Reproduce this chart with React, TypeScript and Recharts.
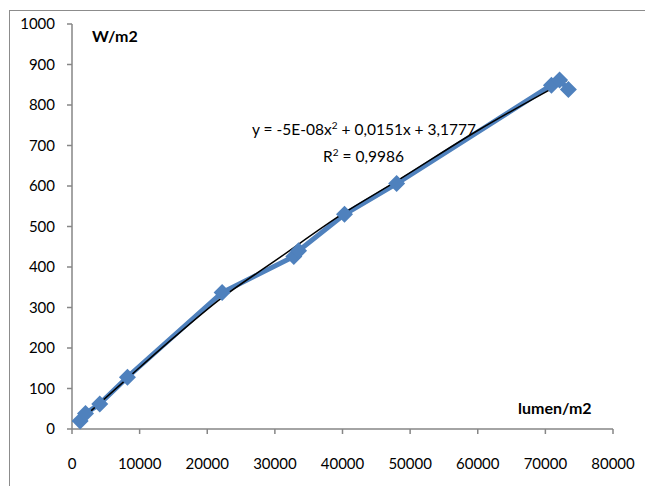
import { ComposedChart, Line, XAxis, YAxis } from "recharts"

// measured points (lumen/m2 -> W/m2)
const lumen = [1200, 2000, 4100, 8200, 22200, 32800, 33500, 40300, 48000, 70900, 72100, 73400]
const watt = [20, 38, 62, 128, 337, 426, 440, 530, 606, 849, 862, 838]

// polynomial trendline
const trendLumen = [1200, 8000, 15000, 22000, 30000, 40000, 48000, 60000, 73200]
const trendWatt = [21, 122, 225, 322, 415, 531, 612, 737, 861]

const xTicks = [0, 10000, 20000, 30000, 40000, 50000, 60000, 70000, 80000]
const yTicks = [0, 100, 200, 300, 400, 500, 600, 700, 800, 900, 1000]

const measured = lumen.map((x, i) => ({ x, y: watt[i] }))
const trend = trendLumen.map((x, i) => ({ x, y: trendWatt[i] }))

const font = "Lato, 'Open Sans', sans-serif"
const axisColor = "#868686"
const blue = "#4F81BD"

const Diamond = (props: any) => {
  const { cx, cy, index } = props
  if (cx == null || cy == null) return null
  const r = 8.5
  return (
    <polygon
      key={`d-${index}`}
      points={`${cx},${cy - r} ${cx + r},${cy} ${cx},${cy + r} ${cx - r},${cy}`}
      fill={blue}
    />
  )
}

export default function App() {
  const tick = { fontFamily: font, fontSize: 15, fill: "#000" }
  return (
    <div style={{ position: "fixed", left: 0, top: 0, width: 645, height: 486, background: "#fff", fontFamily: font }}>
      <div
        style={{
          position: "absolute",
          left: 9,
          top: 10,
          width: 636,
          height: 476,
          borderLeft: "1px solid #8c8c8c",
          borderTop: "1px solid #8c8c8c",
          boxSizing: "border-box",
        }}
      />
      <div style={{ position: "absolute", left: 0, top: 0 }}>
        <ComposedChart width={645} height={486} margin={{ top: 24, right: 32, bottom: 27, left: 12 }}>
          <XAxis
            dataKey="x"
            type="number"
            domain={[0, 80000]}
            ticks={xTicks}
            interval={0}
            tick={tick}
            tickSize={5}
            tickMargin={24}
            height={30}
            stroke={axisColor}
            strokeWidth={1.5}
            allowDataOverflow
          />
          <YAxis
            type="number"
            domain={[0, 1000]}
            ticks={yTicks}
            interval={0}
            tick={tick}
            tickSize={5}
            tickMargin={12}
            width={60}
            stroke={axisColor}
            strokeWidth={1.5}
          />
          <Line
            data={measured}
            dataKey="y"
            type="linear"
            stroke={blue}
            strokeWidth={5}
            dot={Diamond}
            activeDot={false}
            isAnimationActive={false}
          />
          <Line
            data={trend}
            dataKey="y"
            type="monotone"
            stroke="#000"
            strokeWidth={1.5}
            dot={false}
            activeDot={false}
            isAnimationActive={false}
          />
        </ComposedChart>
      </div>
      <div style={{ position: "absolute", left: 92, top: 26, fontSize: 16, fontWeight: 700 }}>W/m2</div>
      <div style={{ position: "absolute", left: 518, top: 398, fontSize: 16, fontWeight: 700 }}>lumen/m2</div>
      <div style={{ position: "absolute", left: 252, top: 119, fontSize: 15.5, whiteSpace: "nowrap" }}>
        y = -5E-08x<sup style={{ fontSize: 10 }}>2</sup> + 0,0151x + 3,1777
      </div>
      <div style={{ position: "absolute", left: 323, top: 146, fontSize: 15.5, whiteSpace: "nowrap" }}>
        R<sup style={{ fontSize: 10 }}>2</sup> = 0,9986
      </div>
    </div>
  )
}
